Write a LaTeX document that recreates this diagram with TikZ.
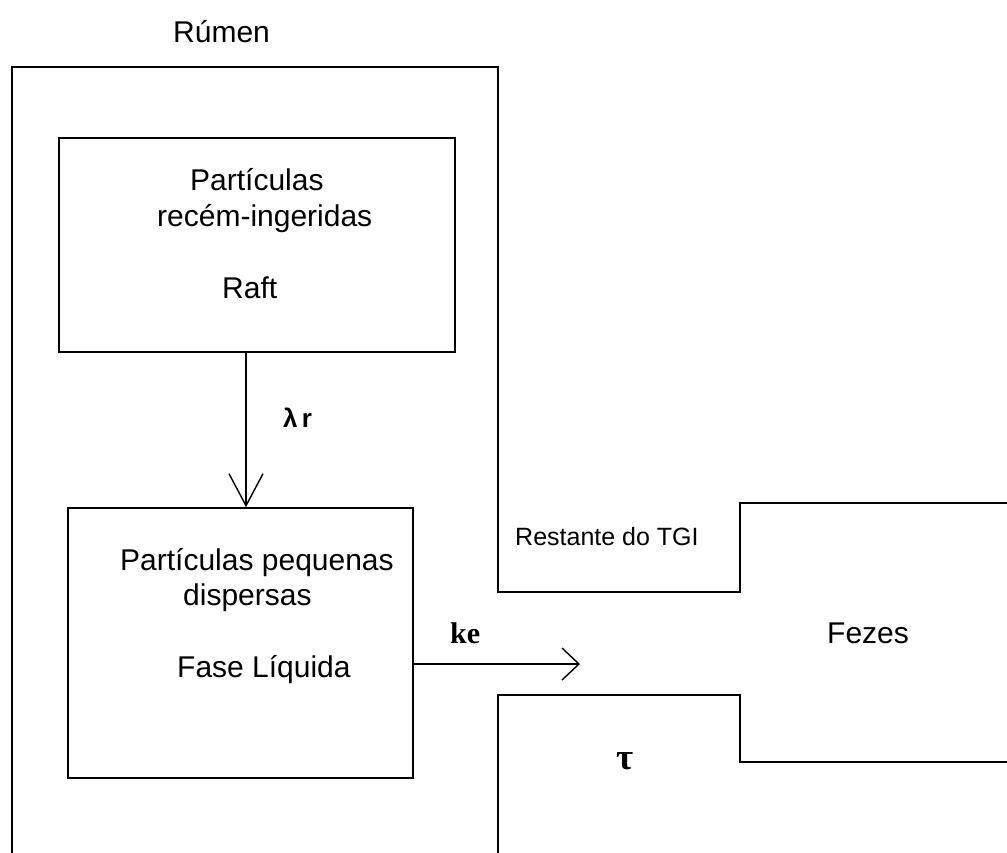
\documentclass[tikz,border=0pt]{standalone}
\usepackage{fontspec}
\setmainfont{Liberation Sans}
\newfontfamily\serifbold{Liberation Serif}
\usetikzlibrary{arrows.meta}
\tikzset{
  wall/.style={line width=1.6pt, line cap=rect},
  boxnode/.style={draw, line width=1.6pt, rectangle, inner sep=0pt},
  txt/.style={anchor=base west, inner sep=0pt, font=\fontsize{30}{36}\selectfont},
  smalltxt/.style={anchor=base west, inner sep=0pt, font=\fontsize{25}{30}\selectfont},
  rate/.style={anchor=base west, inner sep=0pt, font=\serifbold\bfseries\fontsize{30}{36}\selectfont},
  arrv/.style={line width=1.4pt, -{Straight Barb[length=32pt,width=34pt,line width=1.4pt]}},
  arrh/.style={line width=1.4pt, -{Straight Barb[length=17pt,width=32pt,line width=1.4pt]}},
}
\begin{document}
\begin{tikzpicture}[x=1pt,y=-1pt]
\useasboundingbox (0,0) rectangle (1007,852);
% rumen and tract walls
\draw[wall] (12,852) -- (12,67) -- (498,67) -- (498,592) -- (740,592) -- (740,503) -- (1008,503);
\draw[wall] (498,853) -- (498,695) -- (740,695) -- (740,762) -- (1008,762);
% boxes
\node[boxnode, minimum width=396pt, minimum height=214pt] (box1) at (257,245) {};
\node[boxnode, minimum width=345pt, minimum height=270pt] (box2) at (240.5,643) {};
% texts
\node[txt] (rumen) at (173,42) {Rúmen};
\node[txt] (p1a) at (190,190) {Partículas};
\node[txt] (p1b) at (157,226) {recém-ingeridas};
\node[txt] (p1c) at (222,298) {Raft};
\node[txt] (p2a) at (120,570) {Partículas pequenas};
\node[txt] (p2b) at (183,605) {dispersas};
\node[txt] (p2c) at (177,677) {Fase Líquida};
\node[smalltxt] (tgi) at (515,545) {Restante do TGI};
\node[txt] (fezes) at (827,643) {Fezes};
\node[rate] (ke) at (450,643) {ke};
\node[anchor=base west, inner sep=0pt, font=\bfseries\fontsize{26}{30}\selectfont] (lr) at (283,427) {λ\,r};
\node[rate, font=\serifbold\bfseries\fontsize{37}{40}\selectfont] (tau) at (616,769) {τ};
% arrows
\coordinate (vx) at (246,0);
\coordinate (keend) at (580,664);
\draw[arrv] (box1.south -| vx) -- (box2.north -| vx);
\draw[arrh] (box2.east |- keend) -- (keend);
\end{tikzpicture}
\end{document}
